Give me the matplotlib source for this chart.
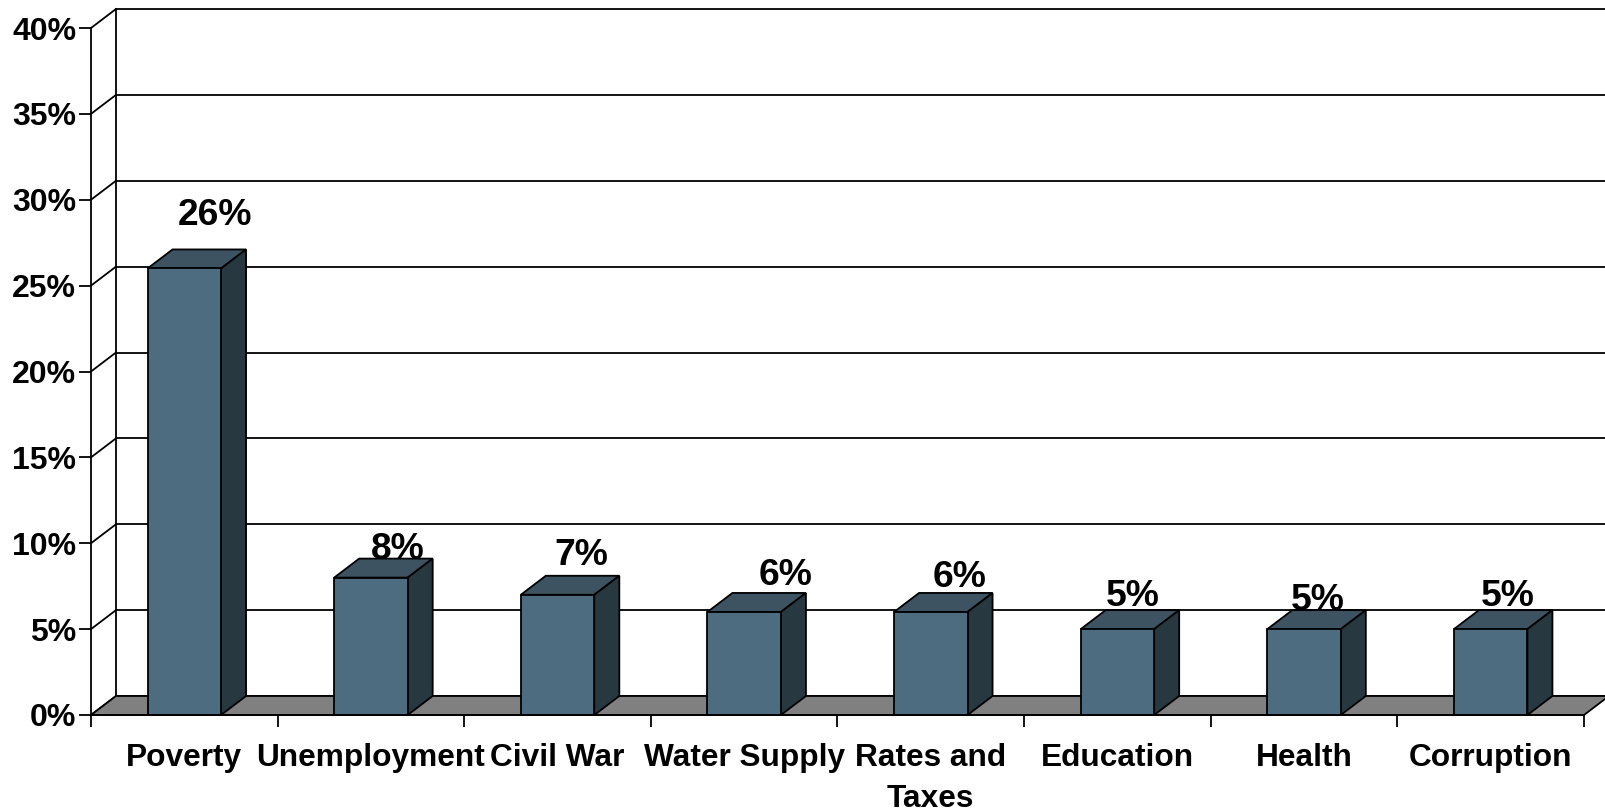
import matplotlib
matplotlib.use('Agg')
import matplotlib.pyplot as plt

plt.rcParams['font.family'] = ['Liberation Sans', 'DejaVu Sans']
plt.rcParams['font.weight'] = 'bold'

# values
categories = ['Poverty', 'Unemployment', 'Civil War', 'Water Supply', 'Rates and\nTaxes',
              'Education', 'Health', 'Corruption']
values = [26, 8, 7, 6, 6, 5, 5, 5]
y_ticks = [0, 5, 10, 15, 20, 25, 30, 35, 40]

# label offsets from the top of each bar, in pixels
label_dx = [31, 27, 24, 41, 29, 15, 14, 17]
label_dy = [53, 28, 39, 36, 34, 33, 29, 33]

W, H = 1606, 811
px = 0.72  # one pixel in points at dpi 100

front_color = '#4d6c80'
top_color = '#3d5361'
side_color = '#283840'
floor_color = '#808080'
lw = 1.3

fig = plt.figure(figsize=(W / 100, H / 100), dpi=100)
# plot box in pixels: x 91..1584, y 28..715
ax = fig.add_axes([91 / W, 1 - 715 / H, (1584 - 91) / W, (715 - 28) / H])
ax.set_xlim(0, 8)
ax.set_ylim(0, 40)
ax.patch.set_visible(False)

# 3d depth expressed in axis units
depth_x = 25 / ((1584 - 91) / 8)
depth_y = 19 / ((715 - 28) / 40)
bar_width = 73.5 / ((1584 - 91) / 8)

# back wall and side wall lines
for t in y_ticks:
    ax.plot([depth_x, 8.2], [t + depth_y, t + depth_y], color='black', lw=lw, clip_on=False, zorder=1)
    ax.plot([0, depth_x], [t, t + depth_y], color='black', lw=lw, clip_on=False, zorder=1)
ax.plot([depth_x, depth_x], [depth_y, 40 + depth_y], color='black', lw=lw, clip_on=False, zorder=1)

# floor
ax.fill([0, depth_x, 8 + depth_x, 8], [0, depth_y, depth_y, 0], facecolor=floor_color,
        edgecolor='black', lw=lw, clip_on=False, zorder=2)

centers = [i + 0.5 for i in range(len(values))]

# data labels sit behind the bars, the 8% and 5% are partly covered in the original
for c, v, dx, dy in zip(centers, values, label_dx, label_dy):
    ax.annotate(f'{v}%', xy=(c, v), xytext=(dx * px, dy * px), textcoords='offset points',
                ha='center', va='center', fontsize=26.8, fontweight='bold', zorder=3)

# bars
for c, v in zip(centers, values):
    l = c - bar_width / 2
    r = l + bar_width
    ax.bar(c, v, width=bar_width, color=front_color, edgecolor='black', linewidth=lw, zorder=5)
    ax.fill([l, l + depth_x, r + depth_x, r], [v, v + depth_y, v + depth_y, v],
            facecolor=top_color, edgecolor='black', lw=lw, clip_on=False, zorder=4)
    ax.fill([r, r + depth_x, r + depth_x, r], [0, depth_y, v + depth_y, v],
            facecolor=side_color, edgecolor='black', lw=lw, clip_on=False, zorder=4)

# axes
for s in ['top', 'right']:
    ax.spines[s].set_visible(False)
for s in ['left', 'bottom']:
    ax.spines[s].set_linewidth(lw)
    ax.spines[s].set_zorder(6)

ax.set_yticks(y_ticks)
ax.set_yticklabels([f'{t}%' for t in y_ticks], fontsize=23, fontweight='bold')
ax.tick_params(axis='y', length=12 * px, width=lw, pad=2)

ax.set_xticks(range(9))
ax.set_xticklabels([])
ax.set_xticks(centers, minor=True)
ax.set_xticklabels(categories, minor=True, fontsize=22.8, fontweight='bold', linespacing=1.47)
ax.tick_params(axis='x', which='major', length=12 * px, width=lw)
ax.tick_params(axis='x', which='minor', length=0, pad=20)

fig.savefig('out.png', dpi=100)
